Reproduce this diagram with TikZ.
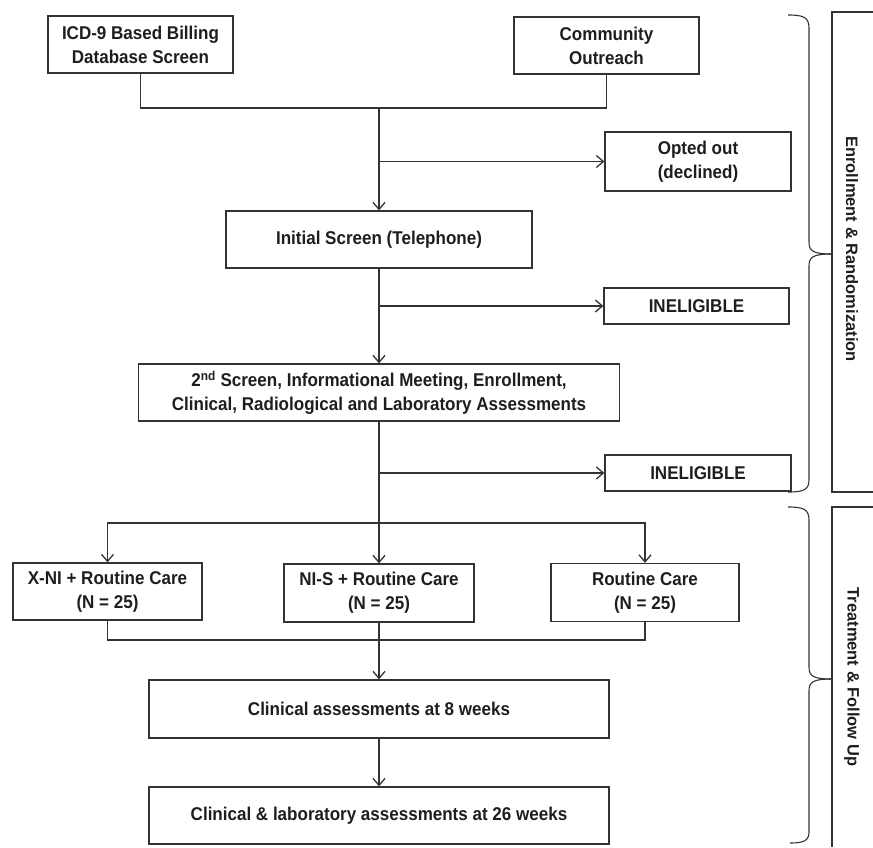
\documentclass[tikz,border=0pt]{standalone}
\usepackage{fontspec}
\setmainfont{Liberation Sans}
\newfontfamily\boxfont{Liberation Sans}[FakeStretch=0.92]
\usetikzlibrary{arrows.meta}
\definecolor{linec}{HTML}{333333}
\definecolor{textc}{HTML}{1E1E1E}
\begin{document}
\begin{tikzpicture}[x=1pt,y=-1pt,
  box/.style={draw=linec, line width=1.3pt, align=center, inner sep=0pt,
    text=textc, font=\boxfont\bfseries\fontsize{18.5}{24}\selectfont},
  conn/.style={draw=linec, line width=1.3pt},
  arr/.style={conn, -{Straight Barb[length=7pt,width=12pt,line width=1.3pt]}},
  sidelabel/.style={text=textc, rotate=-90, inner sep=0pt,
    font=\bfseries\fontsize{16.5}{20}\selectfont},
  bracec/.style={draw=linec, line width=1.1pt}]
\useasboundingbox (0,0) rectangle (873,847);
\fill[white] (0,0) rectangle (873,847);

% boxes
\node[box, minimum width=185, minimum height=57] (icd) at (140.5,44.5) {ICD-9 Based Billing\\Database Screen};
\node[box, minimum width=185, minimum height=57] (com) at (606.5,45.5) {Community\\Outreach};
\node[box, minimum width=186, minimum height=59] (opt) at (698,161.5) {Opted out\\(declined)};
\node[box, minimum width=306, minimum height=57] (init) at (379,239.5) {Initial Screen (Telephone)};
\node[box, minimum width=185, minimum height=36] (in1) at (696.5,306) {INELIGIBLE};
\node[box, minimum width=481, minimum height=57] (sec) at (379,392.5) {2\textsuperscript{nd} Screen, Informational Meeting, Enrollment,\\Clinical, Radiological and Laboratory Assessments};
\node[box, minimum width=186, minimum height=36] (in2) at (698,473) {INELIGIBLE};
\node[box, minimum width=189, minimum height=57] (xni) at (107.5,591.5) {X-NI + Routine Care\\(N = 25)};
\node[box, minimum width=190, minimum height=58] (nis) at (379,593) {NI-S + Routine Care\\(N = 25)};
\node[box, minimum width=188, minimum height=58] (rc) at (645,592.5) {Routine Care\\(N = 25)};
\node[box, minimum width=460, minimum height=58] (w8) at (379,709) {Clinical assessments at 8 weeks};
\node[box, minimum width=460, minimum height=57] (w26) at (379,815.5) {Clinical \& laboratory assessments at 26 weeks};

% junctions
\coordinate (j1) at (379,108);
\coordinate (j2) at (379,523);
\coordinate (j3) at (379,640);

% connectors
\draw[conn] (icd.south) |- (com.south |- j1) -- (com.south);
\draw[arr] (j1) -- (init.north);
\draw[arr] (init.north |- opt.west) -- (opt.west);
\draw[arr] (init.south) -- (sec.north);
\draw[arr] (init.south |- in1.west) -- (in1.west);
\draw[arr] (sec.south) -- (nis.north);
\draw[arr] (sec.south |- in2.west) -- (in2.west);
\draw[arr] (j2) -| (xni.north);
\draw[arr] (j2) -| (rc.north);
\draw[conn] (xni.south) |- (j3);
\draw[conn] (rc.south) |- (j3);
\draw[arr] (nis.south) -- (w8.north);
\draw[arr] (w8.south) -- (w26.north);

% side label frames
\coordinate (f1a) at (873,12);
\coordinate (f1b) at (832,12);
\coordinate (f1c) at (832,492);
\coordinate (f1d) at (873,492);
\draw[bracec] (f1a) -- (f1b) -- (f1c) -- (f1d);
\coordinate (f2a) at (873,507);
\coordinate (f2b) at (832,507);
\coordinate (f2c) at (832,847);
\draw[bracec] (f2a) -- (f2b) -- (f2c);
\node[sidelabel] (lab1) at (852,249) {Enrollment \& Randomization};
\node[sidelabel] (lab2) at (852,677) {Treatment \& Follow Up};

% braces
\coordinate (b1top) at (788,15);
\coordinate (b1tip) at (832,254);
\coordinate (b1bot) at (788,492);
\draw[bracec] (b1top) .. controls (803,15) and (809,17) .. (809,28) -- (809,242)
  .. controls (809,251) and (813,254) .. (b1tip);
\draw[bracec] (b1tip) .. controls (813,254) and (809,257) .. (809,266) -- (809,480)
  .. controls (809,490) and (803,492) .. (b1bot);
\coordinate (b2top) at (788,507);
\coordinate (b2tip) at (832,679);
\coordinate (b2bot) at (790,843);
\draw[bracec] (b2top) .. controls (803,507) and (809,509) .. (809,520) -- (809,667)
  .. controls (809,676) and (813,679) .. (b2tip);
\draw[bracec] (b2tip) .. controls (813,679) and (809,682) .. (809,691) -- (809,832)
  .. controls (809,841) and (803,843) .. (b2bot);
\end{tikzpicture}
\end{document}
